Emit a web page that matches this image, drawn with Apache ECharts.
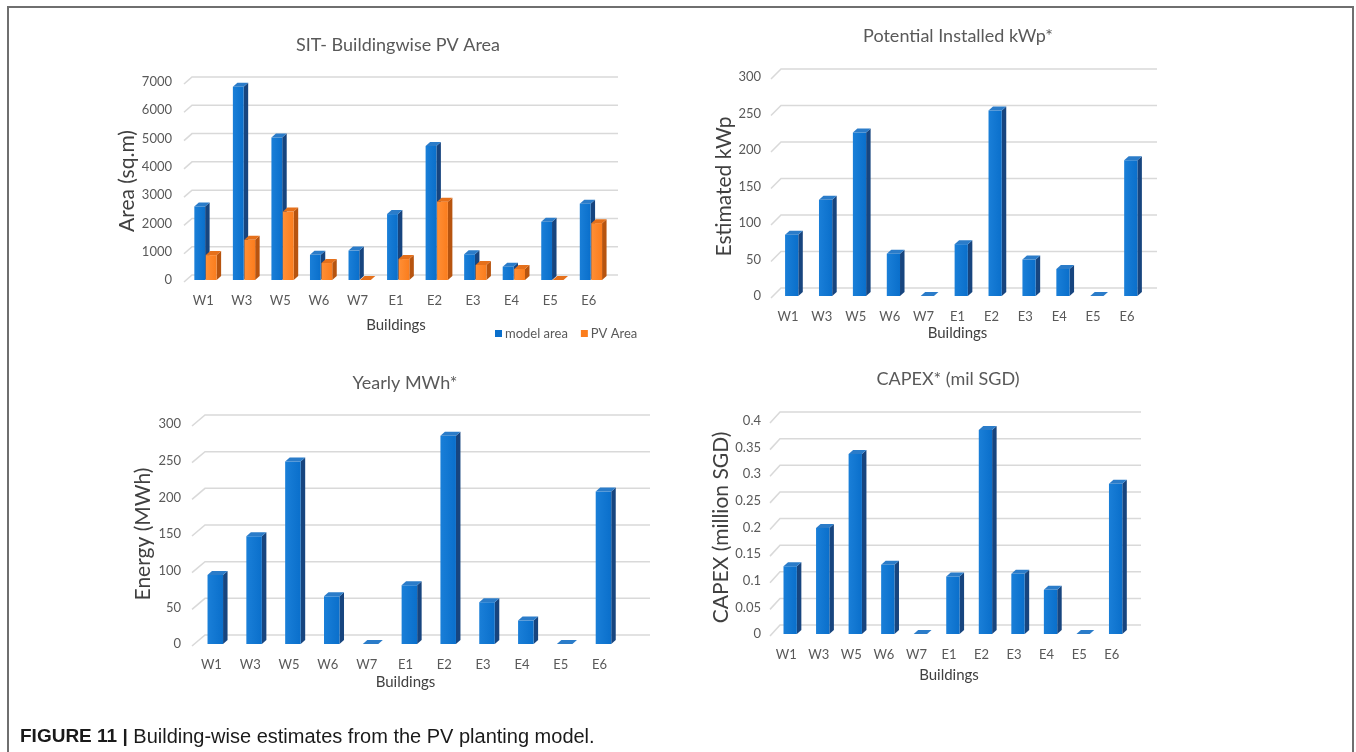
<!DOCTYPE html>
<html>
<head>
<meta charset="utf-8">
<script src="https://cdn.jsdelivr.net/npm/echarts@6/dist/echarts.min.js"></script>
<style>
  html, body { margin: 0; padding: 0; background: #fff; }
  #main { width: 1356px; height: 752px; }
</style>
</head>
<body>
<div id="main"></div>
<script>
// ---- data ----
const buildings = ['W1', 'W3', 'W5', 'W6', 'W7', 'E1', 'E2', 'E3', 'E4', 'E5', 'E6'];
const modelArea = [2600, 6830, 5040, 890, 1040, 2330, 4740, 910, 470, 2060, 2700];
const pvArea = [880, 1420, 2420, 600, 0, 740, 2770, 530, 390, 0, 2010];
const installedKwp = [84, 132, 224, 58, 0, 71, 254, 50, 37, 0, 186];
const yearlyMwh = [94, 147, 249, 65, 0, 80, 284, 57, 32, 0, 208];
const capexMil = [0.127, 0.199, 0.338, 0.13, 0, 0.108, 0.383, 0.113, 0.083, 0, 0.282];

const areaTicks = [0, 1000, 2000, 3000, 4000, 5000, 6000, 7000];
const kwpTicks = [0, 50, 100, 150, 200, 250, 300];
const mwhTicks = [0, 50, 100, 150, 200, 250, 300];
const capexTicks = [0, 0.05, 0.1, 0.15, 0.2, 0.25, 0.3, 0.35, 0.4];

const FONT = 'Lato, "Open Sans", sans-serif';
const TXT = '#595959';
const BLUE = { front: '#0a6fcb', frontHi: '#1a7fd8', side: '#17457f', top: '#2b7cc9' };
const ORANGE = { front: '#fb7d1d', frontHi: '#ff8f36', side: '#b7540f', top: '#e5701b' };

// excel-like 3D column: front face + right side + top
function bar3d(offset, widthRatio, c) {
  return function (params, api) {
    const cat = api.value(0);
    const bw = api.size([1, 0])[0];
    const base = api.coord([cat, 0]);
    const top = api.coord([cat, api.value(1)]);
    const w = bw * widthRatio;
    const x0 = base[0] + bw * offset - w / 2, x1 = x0 + w;
    const yb = base[1], yt = top[1];
    const dx = 4.5, dy = 4;
    return {
      type: 'group',
      children: [
        { type: 'polygon', shape: { points: [[x1, yt], [x1 + dx, yt - dy], [x1 + dx, yb - dy], [x1, yb]] },
          style: { fill: c.side } },
        { type: 'rect', shape: { x: x0, y: yt, width: w, height: yb - yt },
          style: { fill: new echarts.graphic.LinearGradient(0, 0, 1, 0, [
            { offset: 0, color: c.frontHi }, { offset: 1, color: c.front }]) } },
        { type: 'polygon', shape: { points: [[x0, yt], [x0 + dx, yt - dy], [x1 + dx, yt - dy], [x1, yt]] },
          style: { fill: c.top } }
      ]
    };
  };
}

// back-wall gridlines with the little floor/wall stub on the left
function wallGrid(g) {
  return function (params, api) {
    const cs = params.coordSys;
    const y = api.coord([0, api.value(0)])[1];
    return {
      type: 'polyline',
      shape: { points: [[cs.x, y + 2], [cs.x + g.dx, y + 2 - g.dy], [cs.x + cs.width + g.ext, y + 2 - g.dy]] },
      style: { stroke: '#d9d9d9', lineWidth: 1.5, fill: null },
      silent: true
    };
  };
}

const panels = [
  { grid: { left: 184, top: 82, width: 424, height: 198 }, max: 7000, interval: 1000, ticks: areaTicks,
    title: 'SIT- Buildingwise PV Area', tx: 393, ty: 31, yName: 'Area (sq.m)', yGap: 42, xGap: 38,
    wall: { dx: 8, dy: 7, ext: 10 }, labelMargin: 12 },
  { grid: { left: 771, top: 77, width: 373, height: 219 }, max: 300, interval: 50, ticks: kwpTicks,
    title: 'Potential Installed kWp*', tx: 953, ty: 22, yName: 'Estimated kWp', yGap: 34, xGap: 30,
    wall: { dx: 10, dy: 10, ext: 13 }, labelMargin: 10 },
  { grid: { left: 192, top: 424, width: 427, height: 220 }, max: 300, interval: 50, ticks: mwhTicks,
    title: 'Yearly MWh*', tx: 400, ty: 369, yName: 'Energy (MWh)', yGap: 38, xGap: 31,
    wall: { dx: 13, dy: 11, ext: 31 }, labelMargin: 11 },
  { grid: { left: 770, top: 421, width: 358, height: 213 }, max: 0.4, interval: 0.05, ticks: capexTicks,
    title: 'CAPEX* (mil SGD)', tx: 943, ty: 365, yName: 'CAPEX (million SGD)', yGap: 36, xGap: 34,
    wall: { dx: 10, dy: 11, ext: 13 }, labelMargin: 9 }
];

const toPairs = (vals) => vals.map((v, i) => [i, v]);

const series = [];
panels.forEach((p, i) => {
  series.push({
    type: 'custom', xAxisIndex: i, yAxisIndex: i, z: 1,
    data: p.ticks.map((t) => [t]), encode: { y: 0 },
    renderItem: wallGrid(p.wall), tooltip: { show: false }
  });
});
series.push(
  { name: 'model area', type: 'custom', xAxisIndex: 0, yAxisIndex: 0, z: 3,
    itemStyle: { color: BLUE.front }, data: toPairs(modelArea), encode: { x: 0, y: 1 },
    renderItem: bar3d(-0.092, 0.28, BLUE) },
  { name: 'PV Area', type: 'custom', xAxisIndex: 0, yAxisIndex: 0, z: 3,
    itemStyle: { color: ORANGE.front }, data: toPairs(pvArea), encode: { x: 0, y: 1 },
    renderItem: bar3d(0.206, 0.28, ORANGE) },
  { type: 'custom', xAxisIndex: 1, yAxisIndex: 1, z: 3, data: toPairs(installedKwp),
    encode: { x: 0, y: 1 }, renderItem: bar3d(0.11, 0.39, BLUE) },
  { type: 'custom', xAxisIndex: 2, yAxisIndex: 2, z: 3, data: toPairs(yearlyMwh),
    encode: { x: 0, y: 1 }, renderItem: bar3d(0.1, 0.4, BLUE) },
  { type: 'custom', xAxisIndex: 3, yAxisIndex: 3, z: 3, data: toPairs(capexMil),
    encode: { x: 0, y: 1 }, renderItem: bar3d(0.12, 0.41, BLUE) }
);

const chart = echarts.init(document.getElementById('main'), null, { renderer: 'canvas' });
chart.setOption({
  backgroundColor: '#ffffff',
  animation: false,
  textStyle: { fontFamily: FONT },
  title: panels.map((p) => ({
    text: p.title, left: p.tx, top: p.ty, textAlign: 'center',
    textStyle: { fontFamily: FONT, fontSize: 18, fontWeight: 'normal', color: TXT }
  })),
  legend: {
    data: ['model area', 'PV Area'], left: 490, top: 322, icon: 'rect',
    itemWidth: 7, itemHeight: 7, itemGap: 13,
    textStyle: { fontFamily: FONT, fontSize: 13, color: TXT, padding: [0, 0, 0, -2] }
  },
  grid: panels.map((p) => Object.assign({ containLabel: false }, p.grid)),
  xAxis: panels.map((p, i) => ({
    type: 'category', gridIndex: i, data: buildings,
    name: 'Buildings', nameLocation: 'middle', nameGap: p.xGap,
    nameTextStyle: { fontFamily: FONT, fontSize: 15, color: '#404040' },
    axisLine: { show: false }, axisTick: { show: false }, splitLine: { show: false },
    axisLabel: { fontFamily: FONT, fontSize: 13, color: TXT, margin: 14, interval: 0 }
  })),
  yAxis: panels.map((p, i) => ({
    type: 'value', gridIndex: i, min: 0, max: p.max, interval: p.interval,
    name: p.yName, nameLocation: 'middle', nameGap: p.yGap, nameRotate: 90,
    nameTextStyle: { fontFamily: FONT, fontSize: 21, color: '#404040' },
    axisLine: { show: false }, axisTick: { show: false }, splitLine: { show: false },
    axisLabel: { fontFamily: FONT, fontSize: 13, color: TXT, margin: p.labelMargin, padding: [4, 0, 0, 0],
      formatter: (v) => String(v) }
  })),
  series: series,
  graphic: [
    { type: 'polyline', silent: true, shape: { points: [[8, 752], [8, 7], [1353, 7], [1353, 752]] },
      style: { stroke: '#6f6f6f', lineWidth: 2, fill: null } },
    { type: 'text', left: 20, top: 727, silent: true,
      style: {
        text: '{b|FIGURE 11 |} Building-wise estimates from the PV planting model.',
        rich: {
          b: { fontFamily: '"Liberation Sans", Arial, sans-serif', fontWeight: 'bold', fontSize: 19, fill: '#1a1a1a' }
        },
        fontFamily: '"Liberation Sans", Arial, sans-serif', fontSize: 20, fill: '#1a1a1a'
      } }
  ]
});
window.addEventListener('resize', () => chart.resize());
</script>
</body>
</html>
